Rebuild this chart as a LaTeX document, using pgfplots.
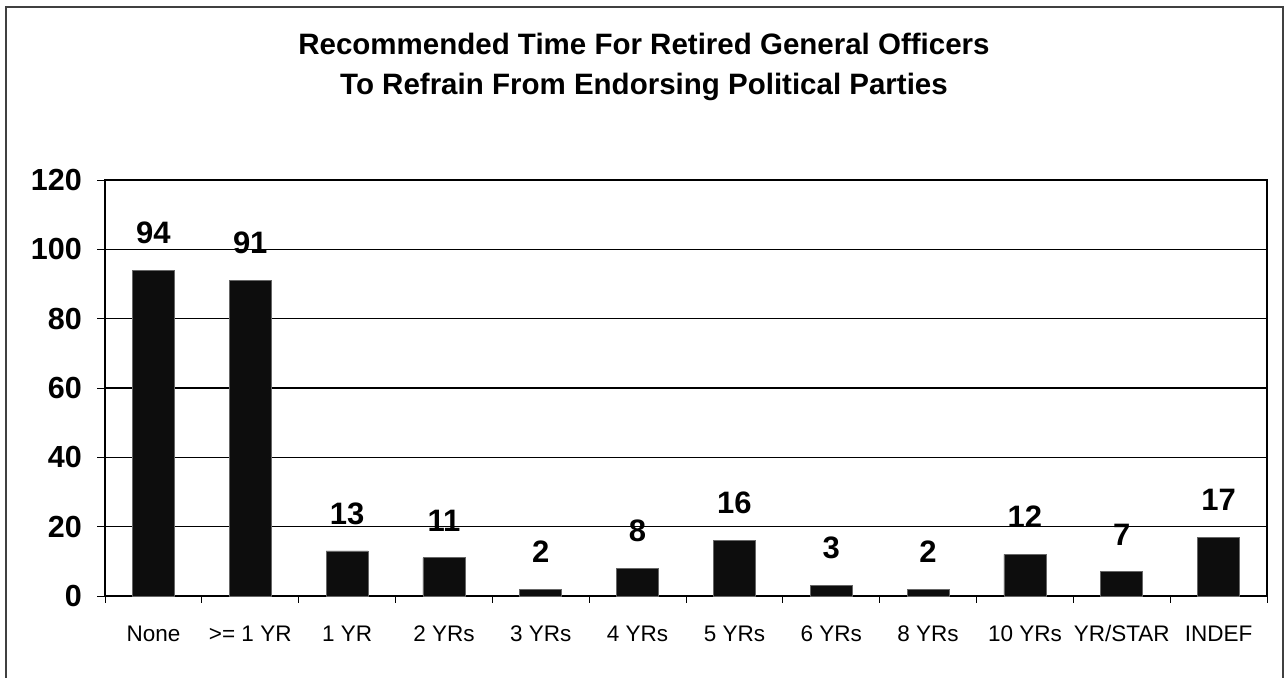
\documentclass[border=0pt]{standalone}
\usepackage{pgfplots}
\pgfplotsset{compat=1.18}
\usepackage{fontspec}
\setmainfont{Liberation Sans}
\begin{document}
\begin{tikzpicture}[x=1pt,y=1pt]
\useasboundingbox (0,0) rectangle (1287,677);
\draw[line width=1.5pt, black!75] (6,670) rectangle (1283,-30);
\node[font=\fontsize{29.5}{36}\selectfont\bfseries, anchor=base] at (644,622) {Recommended Time For Retired General Officers};
\node[font=\fontsize{29.5}{36}\selectfont\bfseries, anchor=base] at (644,582) {To Refrain From Endorsing Political Parties};
\begin{axis}[
  at={(105pt,81pt)}, anchor=south west,
  scale only axis, width=1162pt, height=416pt,
  /pgf/number format/assume math mode=true,
  ymin=0, ymax=120, ytick={0,20,...,120},
  xmin=-0.5, xmax=11.5,
  xtick={0,...,11},
  xticklabels={None, >= 1 YR, 1 YR, 2 YRs, 3 YRs, 4 YRs, 5 YRs, 6 YRs, 8 YRs, 10 YRs, YR/STAR, INDEF},
  minor xtick={-0.5,0.5,...,11.5},
  major x tick style={draw=none},
  minor x tick style={black, line width=0.8pt},
  minor tick length=7pt,
  major tick length=8pt,
  tick align=outside,
  xtick pos=bottom, ytick pos=left,
  y tick style={black, line width=0.8pt},
  ymajorgrids, grid style={black, line width=1.2pt},
  axis line style={black, line width=2.5pt},
  yticklabel style={font=\fontsize{30.5}{36}\selectfont\bfseries, inner sep=0pt, xshift=-15pt},
  xticklabel style={font=\fontsize{22.5}{27}\selectfont, inner sep=0pt, anchor=north, text height=16.5pt, text depth=5pt, yshift=-21pt},
  ybar, bar width=42pt,
  nodes near coords,
  every node near coord/.append style={font=\fontsize{31}{36}\selectfont\bfseries, anchor=south, inner sep=0pt, yshift=26pt},
  clip=false,
]
\addplot[fill=black!95, draw=black!60, line width=0.8pt] coordinates {
(0,94) (1,91) (2,13) (3,11) (4,2) (5,8) (6,16) (7,3) (8,2) (9,12) (10,7) (11,17)};
\end{axis}
\end{tikzpicture}
\end{document}
